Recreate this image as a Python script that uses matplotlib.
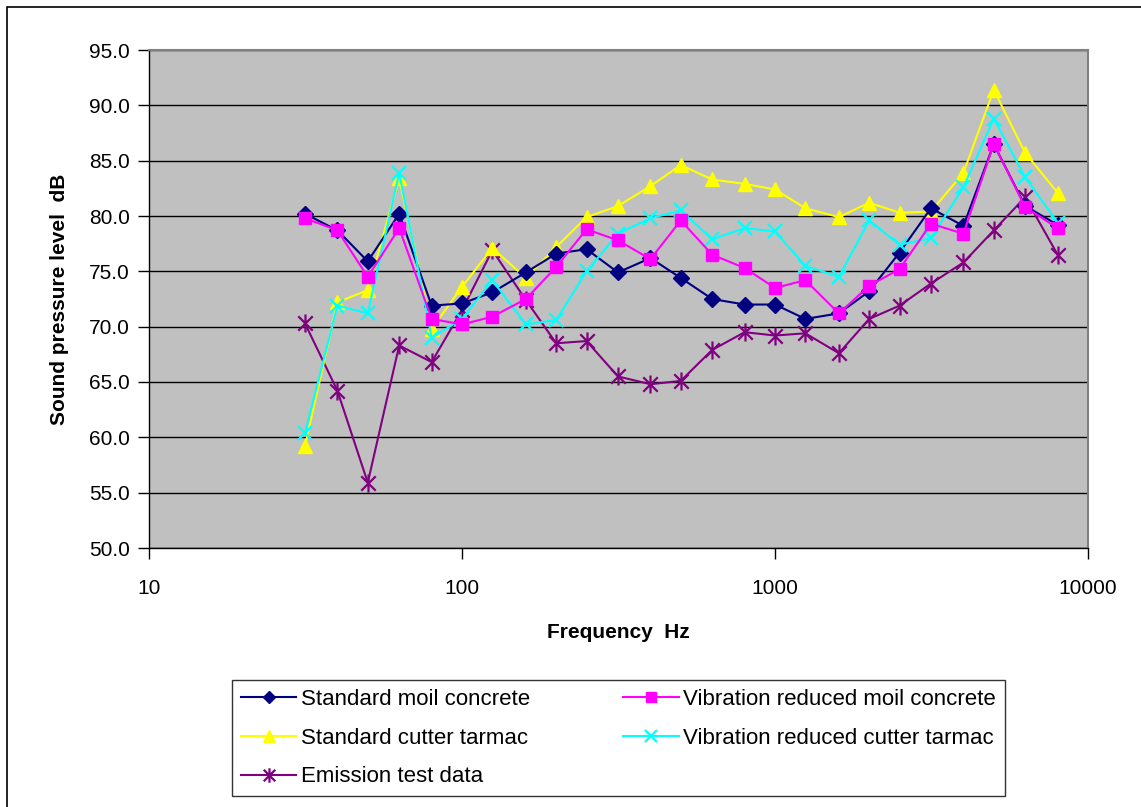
import matplotlib
matplotlib.use("Agg")
import matplotlib.pyplot as plt
from matplotlib.patches import Rectangle
from matplotlib.path import Path
from matplotlib.ticker import FixedLocator, NullLocator, FuncFormatter

plt.rcParams["font.family"] = ["Liberation Sans", "DejaVu Sans"]

# 1/3 octave band centre frequencies (Hz)
freq = [31.5, 40, 50, 63, 80, 100, 125, 160, 200, 250, 315, 400, 500,
        630, 800, 1000, 1250, 1600, 2000, 2500, 3150, 4000, 5000, 6300, 8000]

std_moil = [80.2, 78.7, 75.9, 80.2, 71.9, 72.1, 73.1, 74.9, 76.6, 77.0, 74.9, 76.2, 74.4,
            72.5, 72.0, 72.0, 70.7, 71.2, 73.2, 76.7, 80.7, 79.1, 86.5, 80.9, 79.2]
vr_moil = [79.8, 78.7, 74.5, 78.9, 70.7, 70.2, 70.9, 72.5, 75.4, 78.8, 77.8, 76.1, 79.6,
           76.5, 75.3, 73.5, 74.2, 71.2, 73.7, 75.2, 79.3, 78.4, 86.5, 80.8, 78.9]
std_tarmac = [59.2, 72.2, 73.3, 83.4, 69.8, 73.6, 77.1, 74.4, 77.2, 79.9, 80.9, 82.7, 84.6,
              83.3, 82.9, 82.4, 80.7, 79.9, 81.2, 80.3, 80.4, 83.9, 91.4, 85.7, 82.1]
vr_tarmac = [60.4, 71.9, 71.2, 83.9, 69.0, 70.7, 74.2, 70.2, 70.6, 75.0, 78.4, 79.8, 80.5,
             77.9, 78.9, 78.6, 75.5, 74.5, 79.6, 77.4, 78.0, 82.6, 88.8, 83.5, 79.4]
emission = [70.3, 64.2, 55.9, 68.3, 66.8, 71.5, 76.9, 72.4, 68.5, 68.7, 65.5, 64.8, 65.1,
            67.9, 69.5, 69.2, 69.4, 67.6, 70.7, 71.9, 73.9, 75.8, 78.7, 81.7, 76.5]

y_ticks = [50, 55, 60, 65, 70, 75, 80, 85, 90, 95]
x_ticks = [10, 100, 1000, 10000]

# six-armed star: an x with a vertical stroke through it
star = Path([(-1, -1), (1, 1), (-1, 1), (1, -1), (0, -1.25), (0, 1.25)],
            [Path.MOVETO, Path.LINETO, Path.MOVETO, Path.LINETO, Path.MOVETO, Path.LINETO])

fig = plt.figure(figsize=(11.41, 8.07), dpi=100)
fig.patch.set_facecolor("white")

# outer chart frame (top/left visible)
fig.patches.append(Rectangle((7 / 1141, -0.05), 1.2, 1 - 7 / 807 + 0.05,
                             transform=fig.transFigure, fill=False,
                             edgecolor="black", linewidth=1.2))

ax = fig.add_axes([149 / 1141, 1 - 548 / 807, (1088 - 149) / 1141, (548 - 50) / 807])
ax.set_facecolor("#C0C0C0")

lw = 1.5
ax.plot(freq, std_moil, color="#000080", marker="D", markersize=8, linewidth=lw,
        label="Standard moil concrete", zorder=5)
ax.plot(freq, std_tarmac, color="#FFFF00", marker="^", markersize=10, linewidth=lw,
        label="Standard cutter tarmac", zorder=4)
ax.plot(freq, emission, color="#800080", marker=star, markersize=13, markeredgewidth=1.6,
        markerfacecolor="none", linewidth=lw, label="Emission test data", zorder=3)
ax.plot(freq, vr_moil, color="#FF00FF", marker="s", markersize=9, linewidth=lw,
        label="Vibration reduced moil concrete", zorder=6)
ax.plot(freq, vr_tarmac, color="#00FFFF", marker="x", markersize=10, markeredgewidth=1.6,
        linewidth=lw, label="Vibration reduced cutter tarmac", zorder=5)

ax.set_xscale("log")
ax.set_xlim(10, 10000)
ax.set_ylim(50, 95)
ax.xaxis.set_major_locator(FixedLocator(x_ticks))
ax.xaxis.set_minor_locator(NullLocator())
ax.xaxis.set_major_formatter(FuncFormatter(lambda v, p: f"{v:.0f}"))
ax.yaxis.set_major_locator(FixedLocator(y_ticks))
ax.yaxis.set_major_formatter(FuncFormatter(lambda v, p: f"{v:.1f}"))

ax.grid(True, axis="y", color="black", linewidth=1.0)
ax.set_axisbelow(True)

for side in ("top", "right"):
    ax.spines[side].set_color("#808080")
    ax.spines[side].set_linewidth(1.5)
for side in ("bottom", "left"):
    ax.spines[side].set_color("black")
    ax.spines[side].set_linewidth(1.0)

ax.tick_params(axis="both", which="major", direction="out", length=8, width=1,
               labelsize=15, color="black")
ax.tick_params(axis="x", pad=14)
ax.tick_params(axis="y", pad=6)

ax.set_xlabel("Frequency  Hz", fontsize=15, fontweight="bold", labelpad=18)
ax.set_ylabel("Sound pressure level  dB", fontsize=15, fontweight="bold", labelpad=14)

handles, labels = ax.get_legend_handles_labels()
leg = fig.legend(handles, labels, loc="upper left", ncol=2,
                 bbox_to_anchor=(232 / 1141, 1 - 680 / 807),
                 fontsize=16, frameon=True, fancybox=False,
                 edgecolor="black", handlelength=2.5, handletextpad=0.2,
                 labelspacing=0.8, borderaxespad=0, borderpad=0.4,
                 columnspacing=4.2)
leg.get_frame().set_linewidth(1.0)
for h in leg.legend_handles:
    h.set_markersize(h.get_markersize() * 0.8)

fig.savefig("out.png", dpi=100, facecolor="white")
